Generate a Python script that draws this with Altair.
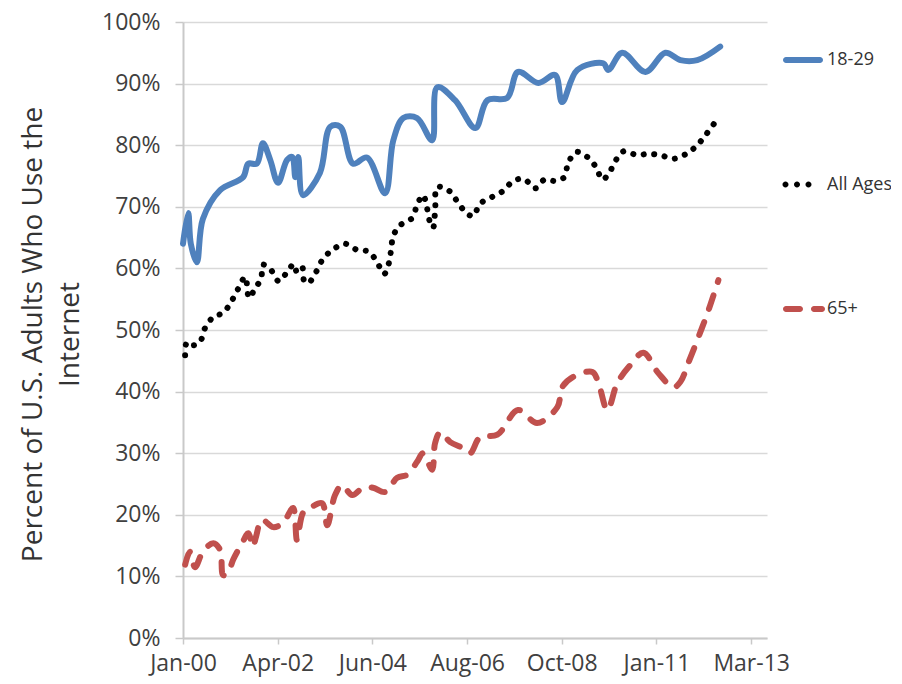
import altair as alt
import pandas as pd

# ---------------- data ----------------
series_names = ["18-29", "All Ages", "65+"]
series_colors = ["#4F81BD", "#000000", "#C0504D"]

# x values are decimal years (2000.0 = first point on the axis), y values in percent
young_year = [2000.00, 2000.12, 2000.18, 2000.32, 2000.46, 2000.86, 2001.39, 2001.51, 2001.71, 2001.85,
              2002.02, 2002.20, 2002.41, 2002.53, 2002.60, 2002.67, 2002.78, 2003.17, 2003.41, 2003.64,
              2003.94, 2004.26, 2004.68, 2004.87, 2005.10, 2005.42, 2005.77, 2005.89, 2006.30, 2006.77,
              2007.05, 2007.51, 2007.76, 2008.23, 2008.62, 2008.78, 2009.13, 2009.73, 2009.85, 2010.17,
              2010.71, 2011.17, 2011.52, 2011.91, 2012.44]
young_pct = [64, 69, 64, 61, 68, 72.7, 74.8, 77, 77, 80.3,
             77.6, 73.9, 77.6, 78.1, 74.8, 78.1, 71.9, 75.5, 83, 83,
             77, 78, 72.2, 80.8, 84.4, 84.4, 80.8, 89.4, 87.3, 82.8,
             87.3, 87.7, 91.9, 90.1, 91.4, 87, 92.2, 93.3, 92.2, 95,
             91.9, 95, 93.8, 93.8, 96]

all_year = [2000.05, 2000.09, 2000.23, 2000.39, 2000.51, 2000.70, 2000.93,
            2001.11, 2001.27, 2001.44, 2001.53, 2001.67, 2001.81, 2001.85,
            2002.04, 2002.22, 2002.41, 2002.57, 2002.64, 2002.76, 2002.80, 2002.90,
            2003.08, 2003.24, 2003.48, 2003.75,
            2004.03, 2004.31, 2004.50, 2004.66, 2004.77, 2004.82, 2004.87,
            2005.03, 2005.31, 2005.42, 2005.56, 2005.65, 2005.72, 2005.79, 2005.84, 2005.89,
            2006.16, 2006.35, 2006.56, 2006.72, 2006.88,
            2007.16, 2007.42, 2007.65, 2007.90,
            2008.16, 2008.37, 2008.62, 2008.83, 2008.92,
            2009.11, 2009.36, 2009.57, 2009.71, 2009.87,
            2010.01, 2010.20, 2010.52, 2010.78,
            2011.05, 2011.36, 2011.68, 2011.91,
            2012.12, 2012.31]
all_pct = [45.9, 48, 47.5, 48, 50.3, 52.1, 52.8,
           54.5, 56.6, 58.6, 55.2, 56.8, 58.3, 60.6,
           59.7, 57.9, 59.4, 60.7, 59.4, 60.2, 58.1, 57.6,
           59.4, 61.5, 63.1, 64,
           63, 62.7, 60.9, 59.1, 60.9, 63.1, 65.3,
           67, 68.2, 70.3, 71.9, 69.8, 67.5, 66.6, 69.5, 73.2,
           72.6, 70.9, 69, 68.5, 70.5,
           71.6, 72.6, 74.2, 74.5,
           73, 74.4, 74.2, 74.8, 77.1,
           78.9, 78.1, 76.4, 74.4, 75.5,
           77.4, 79, 78.4, 78.6,
           78.4, 77.8, 78.7, 80,
           81.8, 83.6]

old_year = [2000.05, 2000.16, 2000.28, 2000.46, 2000.70, 2000.86, 2000.93,
            2001.04, 2001.16, 2001.37, 2001.51, 2001.62, 2001.69, 2001.83,
            2002.09, 2002.32, 2002.55, 2002.64, 2002.78, 2002.94,
            2003.22, 2003.34, 2003.52, 2003.68, 2003.92,
            2004.17, 2004.40, 2004.68, 2004.96,
            2005.19, 2005.42, 2005.56, 2005.77, 2005.84, 2005.96,
            2006.19, 2006.49, 2006.65, 2006.88,
            2007.28, 2007.76,
            2008.20, 2008.67, 2008.78,
            2009.04, 2009.48, 2009.62, 2009.83,
            2010.06, 2010.36, 2010.66,
            2011.01, 2011.36, 2011.52, 2011.70, 2011.94,
            2012.17, 2012.40]
old_pct = [11.9, 14, 11.5, 14, 15.4, 14.3, 10.2,
           10.5, 12.7, 15.4, 17, 14.8, 16.4, 19.2,
           18, 18.7, 21.1, 15.9, 20.3, 21.1,
           21.9, 18.3, 23.2, 24.8, 23.2,
           24.4, 24.4, 23.7, 26,
           26.5, 28.6, 30, 27.3, 31.7, 33.4,
           31.8, 30.8, 30, 32.6,
           33, 37,
           34.9, 37.5, 40.7,
           42.4, 43.2, 41.4, 37,
           41.4, 44.3, 46.3,
           43, 40.7, 41.6, 44.6, 48.9,
           53.2, 58.1]

y_ticks = [0, 10, 20, 30, 40, 50, 60, 70, 80, 90, 100]
y_title = ["Percent of U.S. Adults Who Use the", "Internet"]

# axis of dates: starts 21 Jan 2000, a labelled tick every 801 days (Jan-00 ... Mar-13)
axis_start = pd.Timestamp("2000-01-21")
tick_step_days = 801
n_ticks = 7
axis_span_days = 4940

# ---------------- build table ----------------
def to_dates(years):
    return [axis_start + pd.Timedelta(days=round((y - 2000) * 365.25)) for y in years]

rows = []
for name, yrs, vals in [("18-29", young_year, young_pct),
                        ("All Ages", all_year, all_pct),
                        ("65+", old_year, old_pct)]:
    for d, v in zip(to_dates(yrs), vals):
        rows.append({"date": d, "pct": v, "series": name})
df = pd.DataFrame(rows)


def dt(ts):
    return alt.DateTime(year=ts.year, month=ts.month, date=ts.day)


tick_values = [dt(axis_start + pd.Timedelta(days=tick_step_days * k)) for k in range(n_ticks)]
x_domain = [dt(axis_start), dt(axis_start + pd.Timedelta(days=axis_span_days))]

FONT = "Open Sans"
AXIS_GRAY = "#c9c9c9"

x_enc = alt.X(
    "date:T",
    scale=alt.Scale(domain=x_domain),
    axis=alt.Axis(values=tick_values, format="%b-%y", title=None, grid=False,
                  tickSize=6, tickColor=AXIS_GRAY, tickWidth=1.5,
                  domainColor=AXIS_GRAY, domainWidth=2,
                  labelFontSize=23, labelColor="#404040", labelPadding=8,
                  labelFlush=False, labelOverlap=False, labelFont=FONT),
)
y_enc = alt.Y(
    "pct:Q",
    scale=alt.Scale(domain=[0, 100], nice=False),
    axis=alt.Axis(values=y_ticks, labelExpr="datum.value + '%'",
                  title=y_title, titleFontSize=28, titleFontWeight="normal",
                  titleColor="#333333", titleFont=FONT, titleLineHeight=37,
                  titleAngle=270, titleAlign="center", titleBaseline="middle",
                  titleX=-150, titleY=312,
                  grid=True, gridColor="#d9d9d9", gridWidth=1.5,
                  tickSize=8, tickColor=AXIS_GRAY, tickWidth=1.5,
                  domainColor=AXIS_GRAY, domainWidth=2,
                  labelFontSize=23, labelColor="#404040", labelPadding=15,
                  labelFont=FONT),
)

base = alt.Chart(df)

line_young = base.transform_filter(alt.datum.series == "18-29").mark_line(
    color=series_colors[0], strokeWidth=6, strokeCap="round", strokeJoin="round",
    interpolate="catmull-rom").encode(x=x_enc, y=y_enc)

line_all = base.transform_filter(alt.datum.series == "All Ages").mark_line(
    color=series_colors[1], strokeWidth=6, strokeCap="round", strokeJoin="round",
    strokeDash=[0.1, 10.5], interpolate="catmull-rom").encode(x=x_enc, y=y_enc)

line_old = base.transform_filter(alt.datum.series == "65+").mark_line(
    color=series_colors[2], strokeWidth=6, strokeCap="round", strokeJoin="round",
    strokeDash=[14, 14], interpolate="catmull-rom").encode(x=x_enc, y=y_enc)

# ---------------- legend symbols (shapes in a unit box) ----------------
r = 0.143


def bar(x0, x1):
    a, b = x0 + r, x1 - r
    return (f"M{a:.3f},{-r}L{b:.3f},{-r}A{r},{r},0,0,1,{b:.3f},{r}"
            f"L{a:.3f},{r}A{r},{r},0,0,1,{a:.3f},{-r}Z")


def dot(cx):
    return (f"M{cx - r:.3f},0A{r},{r},0,1,0,{cx + r:.3f},0"
            f"A{r},{r},0,1,0,{cx - r:.3f},0Z")


symbol_paths = [
    bar(-1.0, 0.905),
    dot(-0.881) + dot(-0.333) + dot(0.214),
    bar(-1.0, -0.048) + bar(0.333, 1.0),
]

legend = alt.Legend(title=None, orient="none", legendX=600, legendY=17,
                    direction="vertical", symbolSize=1764, symbolStrokeWidth=0,
                    labelFontSize=18, labelFont=FONT, labelColor="#333333",
                    labelOffset=2, rowPadding=94.5, padding=0, labelLimit=300)

legend_layer = base.transform_filter("false").mark_point(
    filled=True, opacity=1, strokeWidth=0).encode(
    x=x_enc, y=y_enc,
    color=alt.Color("series:N", scale=alt.Scale(domain=series_names, range=series_colors),
                    legend=legend),
    shape=alt.Shape("series:N", scale=alt.Scale(domain=series_names, range=symbol_paths),
                    legend=legend),
)

chart = alt.layer(line_young, line_all, line_old, legend_layer).properties(
    width=584, height=616,
    autosize=alt.AutoSizeParams(type="none"),
    padding={"left": 175, "top": 14, "right": 124, "bottom": 46},
).configure(font=FONT).configure_view(strokeWidth=0)

chart.save("out.html", embed_options={"renderer": "svg", "actions": False})
